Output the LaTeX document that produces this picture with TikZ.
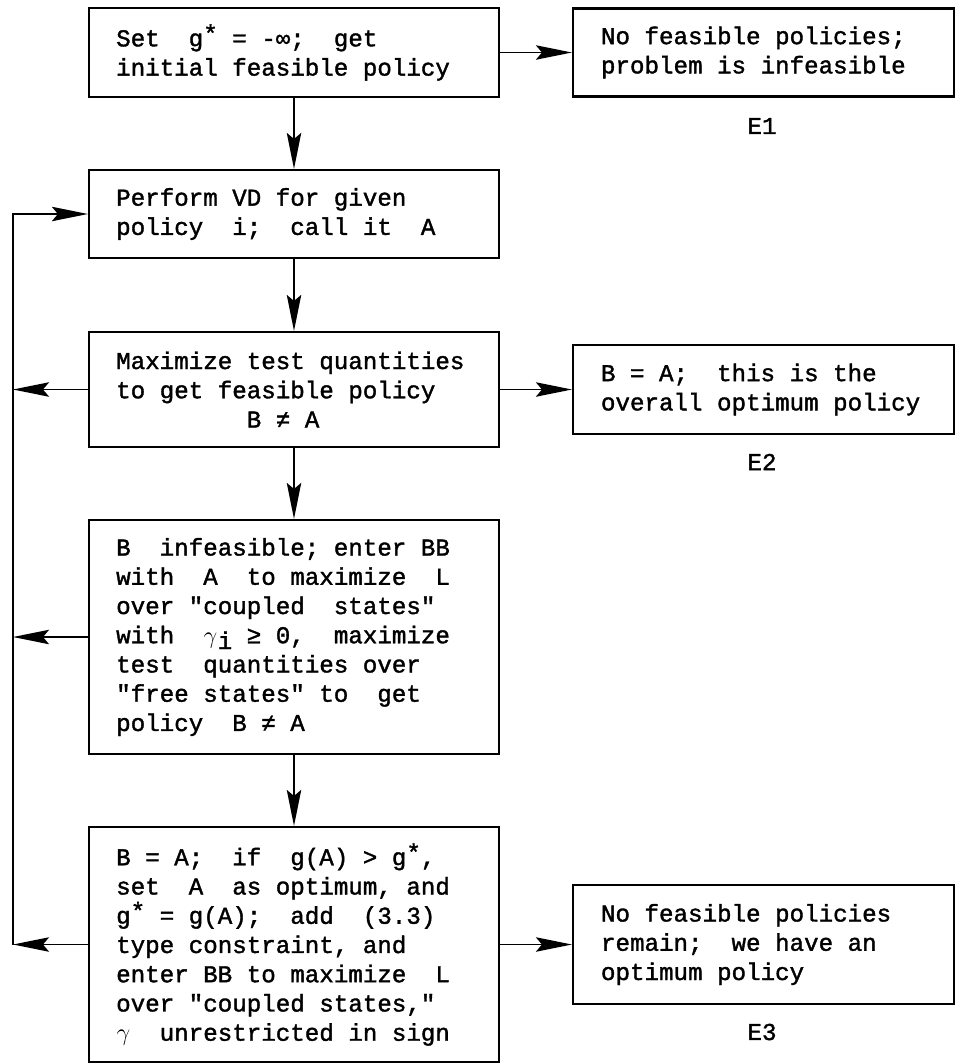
\documentclass[tikz,border=0pt]{standalone}
\usepackage{fontspec}
\usepackage{tikz}
\usetikzlibrary{arrows.meta}
\newfontfamily\typewr{Liberation Mono}[FakeBold=1.5]
\newcommand{\gstar}{g\raisebox{.35ex}{*}}
\newcommand{\cell}[1]{\makebox[0.6em]{#1}}
\frenchspacing

\tikzset{
    flowbox/.style={draw, rectangle, line width=1.5pt, align=flush left, inner xsep=0.68cm, inner ysep=0.2cm,
        font=\typewr\fontsize{17.2}{20.8}\selectfont},
    leftbox/.style={flowbox, text width=8.89cm},
    exitbox/.style={flowbox, inner xsep=0.7cm, text width=8.125cm},
    exitlabel/.style={font=\typewr\fontsize{17.2}{20.8}\selectfont},
    flow/.style={line width=1.4pt, -{Stealth[length=0.9cm,width=0.36cm,inset=0.15cm]}}
}

\begin{document}
\begin{tikzpicture}
    \useasboundingbox (0,0) rectangle (24,-26.575);

    % start
    \node[leftbox, minimum height=2.225cm] (init) at (7.35,-1.3125)
        {Set~~\gstar{} = -∞;~~get\\initial feasible policy};
    \node[exitbox, minimum height=2.2cm] (noinit) at (19.0875,-1.3125)
        {No feasible policies;\\problem is infeasible};
    \node[exitlabel] (labelone) at (19.05,-3.15) {E1};

    % value determination
    \node[leftbox, minimum height=2.2cm] (vd) at (7.35,-5.35)
        {Perform VD for given\\policy~~i;~~call it~~A};

    % policy improvement
    \node[leftbox, minimum height=2.875cm] (maxim) at (7.35,-9.7375)
        {Maximize test quantities\\to get feasible policy\\\phantom{XXXXXXXXX}B ≠ A};
    \node[exitbox, minimum height=2.225cm] (optimal) at (19.0875,-9.7375)
        {B = A;~~this is the\\overall optimum policy};
    \node[exitlabel] (labeltwo) at (19.05,-11.55) {E2};

    % branch and bound
    \node[leftbox, minimum height=5.85cm] (infeas) at (7.35,-15.925)
        {B~~infeasible; enter BB\\
         with~~A~~to maximize~~L\\
         over "coupled~~states"\\
         with~~\cell{$\gamma$}\cell{\raisebox{-.45ex}{i}} ≥ 0,~~maximize\\
         test~~quantities over\\
         "free states" to~~get\\
         policy~~B ≠ A};

    % new optimum
    \node[leftbox, minimum height=5.875cm] (reopt) at (7.35,-23.6125)
        {B = A;~~if~~g(A) > \gstar,\\
         set~~A~~as optimum, and\\
         \gstar{} = g(A);~~add~~(3.3)\\
         type constraint, and\\
         enter BB to maximize~~L\\
         over "coupled states,"\\
         \cell{$\gamma$}~~unrestricted in sign};
    \node[exitbox, minimum height=2.975cm] (finished) at (19.0875,-23.6125)
        {No feasible policies\\remain;~~we have an\\optimum policy};
    \node[exitlabel] (labelthree) at (19.05,-25.8) {E3};

    % feedback line
    \coordinate (looptop) at (0.325,-5.35);
    \coordinate (loopbot) at (0.325,-23.6125);

    \draw[flow] (init) -- (vd);
    \draw[flow] (vd) -- (maxim);
    \draw[flow] (maxim) -- (infeas);
    \draw[flow] (infeas) -- (reopt);
    \draw[flow] (init) -- (noinit);
    \draw[flow] (maxim) -- (optimal);
    \draw[flow] (reopt) -- (finished);
    \draw[flow] (maxim.west) -- (maxim.west -| looptop);
    \draw[flow] (infeas.west) -- (infeas.west -| looptop);
    \draw[flow] (reopt.west) -- (loopbot);
    \draw[flow] (loopbot) -- (looptop) -- (vd.west);
\end{tikzpicture}
\end{document}
